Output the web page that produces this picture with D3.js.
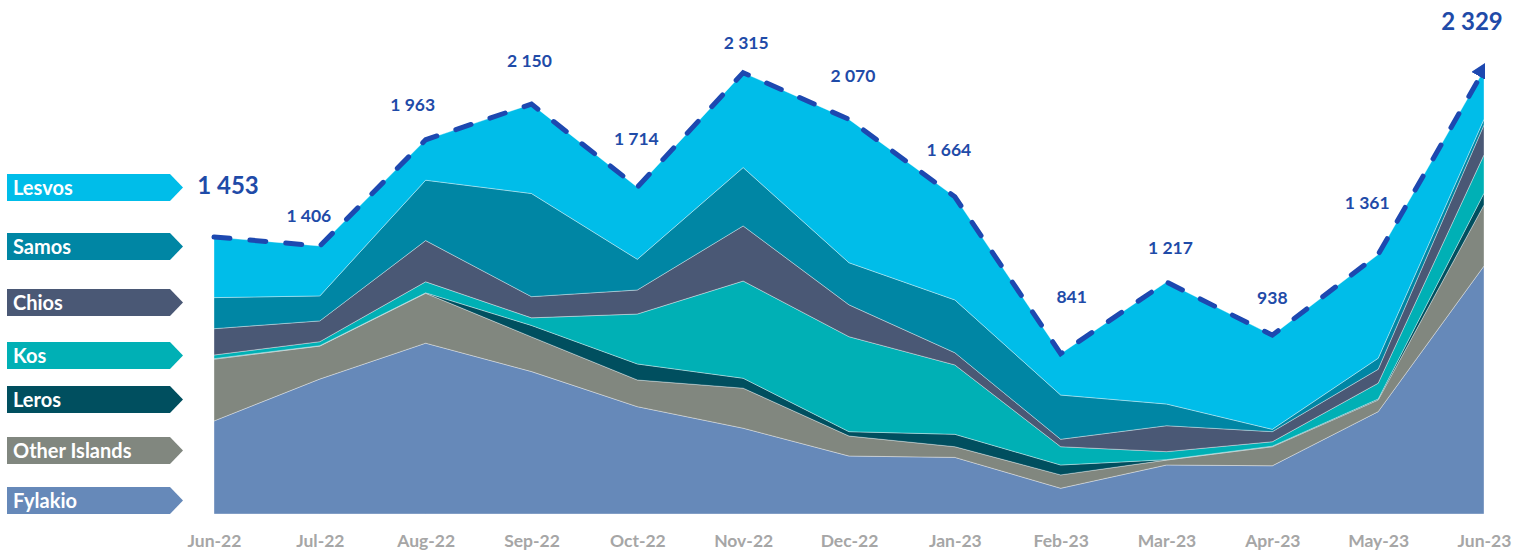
<!DOCTYPE html>
<html><head><meta charset="utf-8">
<script src="https://cdn.jsdelivr.net/npm/d3@7"></script>
<style>
body{margin:0;background:#fff;}
svg{display:block;font-family:Lato,'Open Sans',sans-serif;}
</style>
</head><body>
<svg id="c" width="1517" height="551"></svg>
<script>
// ---- data ----
const months = ["Jun-22","Jul-22","Aug-22","Sep-22","Oct-22","Nov-22","Dec-22","Jan-23","Feb-23","Mar-23","Apr-23","May-23","Jun-23"];
const totals = [1453,1406,1963,2150,1714,2315,2070,1664,841,1217,938,1361,2329];
const fylakio      = [488,708,896,747,563,450,304,297,135,257,253,537,1301];
const otherIslands = [324,173,262,182,140,210,105,56,70,26,100,61,320];
const leros        = [3,2,2,60,84,52,23,65,52,2,3,5,62];
const kos          = [19,21,58,40,262,510,498,364,96,42,23,83,201];
const chios        = [138,109,216,111,126,289,167,64,39,136,53,73,157];
const samos        = [163,131,317,541,161,306,221,277,232,114,12,58,30];
const lesvos       = [318,262,212,469,378,498,752,541,217,640,494,544,258];
const seriesNames  = ["Fylakio","Other Islands","Leros","Kos","Chios","Samos","Lesvos"];
const seriesValues = [fylakio, otherIslands, leros, kos, chios, samos, lesvos];

// ---- style / layout ----
const colors = {"Fylakio":"#6689b9","Other Islands":"#81877f","Leros":"#004f5f","Kos":"#00b0b5","Chios":"#4a5875","Samos":"#0086a4","Lesvos":"#00bde9"};
const legendOrder = ["Lesvos","Samos","Chios","Kos","Leros","Other Islands","Fylakio"];
const legendTop = [174,233,289,342,386,437,487];
const labelOffsets = [[14,-53],[-11,-30],[-13,-35],[-2,-44],[-1,-49],[3,-30],[4,-44],[-6,-47],[11,-57],[4,-34],[0,-38],[-11,-52],[-12,-50]];
const labelBig = [true,false,false,false,false,false,false,false,false,false,false,false,true];

const svg = d3.select("#c");
const x = d3.scalePoint().domain(months).range([214, 1484]);
const y = d3.scaleLinear().domain([0, 2329]).range([514, 70]);

const table = months.map((m,i)=>{
  const o = {month:m};
  seriesNames.forEach((s,j)=>o[s]=seriesValues[j][i]);
  return o;
});
const stack = d3.stack().keys(seriesNames)(table);

const area = d3.area()
  .x(d=>x(d.data.month))
  .y0(d=>y(d[0]))
  .y1(d=>y(d[1]));

svg.append("g").selectAll("path").data(stack).join("path")
  .attr("d", area)
  .attr("fill", d=>colors[d.key])
  .attr("stroke","rgba(255,255,255,0.45)")
  .attr("stroke-width",0.8);

// clip for line + arrow
const defs = svg.append("defs");
defs.append("clipPath").attr("id","clip").append("rect")
  .attr("x",0).attr("y",0).attr("width",1485).attr("height",551);
defs.append("marker").attr("id","arrow")
  .attr("viewBox","0 0 10 10").attr("refX",4).attr("refY",5)
  .attr("markerUnits","userSpaceOnUse")
  .attr("markerWidth",20).attr("markerHeight",20)
  .attr("orient","auto")
  .append("path").attr("d","M0,0 L10,5 L0,10 Z").attr("fill","#1d48b0");

const line = d3.line().x((d,i)=>x(months[i])).y(d=>y(d));
svg.append("path")
  .attr("clip-path","url(#clip)")
  .attr("d", line(totals))
  .attr("fill","none")
  .attr("stroke","#1d48b0")
  .attr("stroke-width",5)
  .attr("stroke-linecap","round")
  .attr("stroke-dasharray","16 20")
  .attr("marker-end","url(#arrow)");

// data labels
const fmt = d3.formatLocale({decimal:".",thousands:" ",grouping:[3],currency:["",""]}).format(",d");
svg.append("g").selectAll("text").data(totals).join("text")
  .attr("x",(d,i)=>x(months[i])+labelOffsets[i][0])
  .attr("y",(d,i)=>y(d)+labelOffsets[i][1])
  .attr("text-anchor","middle")
  .attr("dominant-baseline","central")
  .attr("font-weight","bold")
  .attr("font-size",(d,i)=>labelBig[i]?"24px":"17.5px")
  .attr("fill","#1f4ba8")
  .text(d=>fmt(d));

// x axis
const ax = svg.append("g").attr("transform","translate(0,514)")
  .call(d3.axisBottom(x).tickSize(0).tickPadding(21));
ax.select(".domain").remove();
ax.selectAll("text").attr("font-family","Lato,'Open Sans',sans-serif")
  .attr("font-size","17.5px").attr("font-weight","bold").attr("fill","#a6a6a6");

// legend tags
const lg = svg.append("g").selectAll("g").data(legendOrder).join("g")
  .attr("transform",(d,i)=>`translate(0,${legendTop[i]})`);
lg.append("path")
  .attr("d","M7,0 L170,0 L183,13.5 L170,27 L7,27 Z")
  .attr("fill",d=>colors[d]);
lg.append("text").attr("x",13).attr("y",20.5)
  .attr("fill","#fff").attr("font-weight","bold").attr("font-size","20px")
  .text(d=>d);
</script>
</body></html>
